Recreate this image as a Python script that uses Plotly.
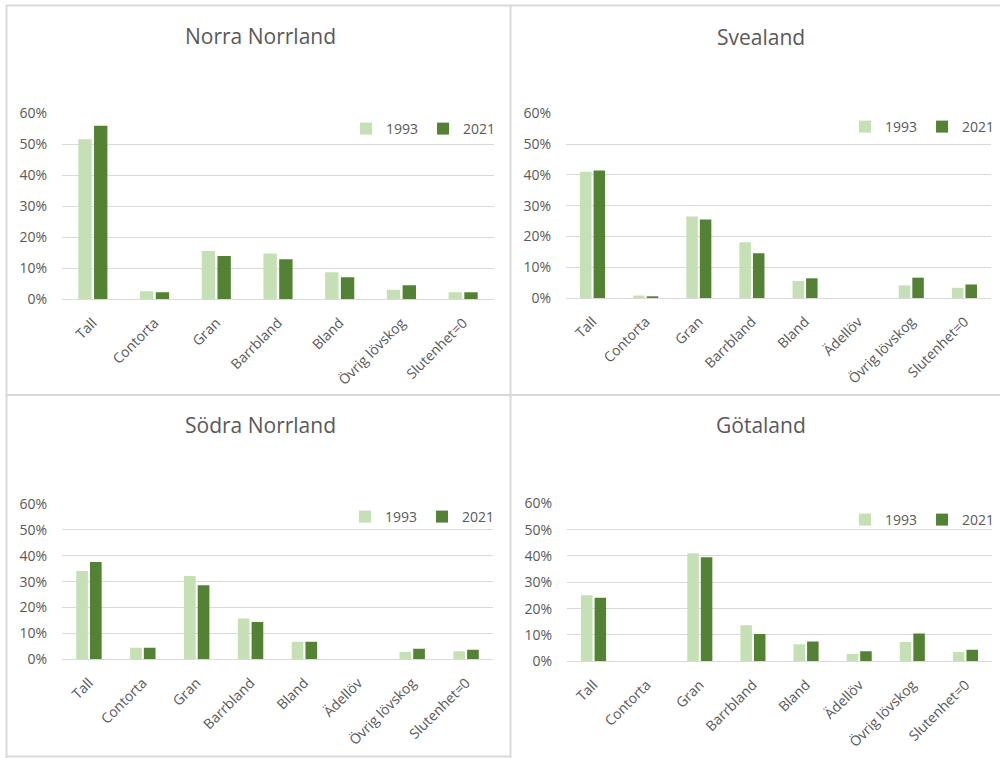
import plotly.graph_objects as go

# Category labels (Norra Norrland has no Ädellöv class)
cats_nn = ["Tall", "Contorta", "Gran", "Barrbland", "Bland", "Övrig lövskog", "Slutenhet=0"]
cats_all = ["Tall", "Contorta", "Gran", "Barrbland", "Bland", "Ädellöv", "Övrig lövskog", "Slutenhet=0"]

years = ["1993", "2021"]

# Share of forest area per forest type
nn_1993 = [0.516, 0.026, 0.156, 0.148, 0.087, 0.031, 0.023]
nn_2021 = [0.560, 0.023, 0.140, 0.129, 0.071, 0.045, 0.023]

sv_1993 = [0.410, 0.008, 0.265, 0.181, 0.055, 0.0, 0.041, 0.033]
sv_2021 = [0.414, 0.005, 0.255, 0.145, 0.064, 0.0, 0.066, 0.044]

sn_1993 = [0.341, 0.045, 0.322, 0.158, 0.068, 0.0, 0.028, 0.031]
sn_2021 = [0.376, 0.045, 0.286, 0.144, 0.068, 0.0, 0.041, 0.037]

gl_1993 = [0.251, 0.0, 0.410, 0.137, 0.065, 0.028, 0.073, 0.035]
gl_2021 = [0.241, 0.0, 0.395, 0.104, 0.075, 0.038, 0.106, 0.044]

titles = ["Norra Norrland", "Svealand", "Södra Norrland", "Götaland"]

colors = {"1993": "#c5e0b4", "2021": "#548235"}

W, H = 1000, 758


def px_x(v):
    return v / W


def px_y(v):
    return 1 - v / H


# panel layout: (title, categories, series, x-domain px, y px of 0% and 60%, title pos, legend pos)
panels = [
    (titles[0], cats_nn, [nn_1993, nn_2021], (62, 494), (299.3, 113.3), (260.5, 36), (501, 129)),
    (titles[1], cats_all, [sv_1993, sv_2021], (566, 991), (298.0, 113.3), (761, 37), (1000, 127)),
    (titles[2], cats_all, [sn_1993, sn_2021], (62, 493), (659.3, 504.0), (260.5, 425), (500, 517)),
    (titles[3], cats_all, [gl_1993, gl_2021], (567, 992), (661.3, 503.3), (761, 425), (1000, 520)),
]

fig = go.Figure()
font_family = "Open Sans, Noto Sans, sans-serif"
grey = "#595959"
line_grey = "#d9d9d9"

annotations = []
for i, (title, cats, series, xd, yd, tpos, lpos) in enumerate(panels):
    n = i + 1
    xa = "x" if n == 1 else f"x{n}"
    ya = "y" if n == 1 else f"y{n}"
    lg = "legend" if n == 1 else f"legend{n}"
    for yr, vals in zip(years, series):
        fig.add_trace(go.Bar(
            x=cats, y=vals, name=yr, xaxis=xa, yaxis=ya, legend=lg,
            marker=dict(color=colors[yr], line=dict(width=0)),
        ))
    xkey = "xaxis" if n == 1 else f"xaxis{n}"
    ykey = "yaxis" if n == 1 else f"yaxis{n}"
    fig.update_layout({
        xkey: dict(
            domain=[px_x(xd[0]), px_x(xd[1])], anchor=ya, automargin=False,
            tickangle=-45, showgrid=False, showline=True, linecolor=line_grey, linewidth=1,
            tickfont=dict(family=font_family, size=14, color=grey),
            ticks="", ticklabelstandoff=9, fixedrange=True,
        ),
        ykey: dict(
            domain=[px_y(yd[0]), px_y(yd[1])], anchor=xa, automargin=False,
            range=[0, 0.6], dtick=0.1, tickformat=".0%",
            showgrid=True, gridcolor=line_grey, gridwidth=1, zeroline=False,
            tickfont=dict(family=font_family, size=14, color=grey),
            ticks="", ticklabelstandoff=14, fixedrange=True,
        ),
        lg: dict(
            orientation="h", x=px_x(lpos[0]), y=px_y(lpos[1]),
            xanchor="right", yanchor="middle", bgcolor="rgba(0,0,0,0)",
            font=dict(family=font_family, size=14, color=grey),
            itemwidth=30, tracegroupgap=0,
        ),
    })
    annotations.append(dict(
        text=title, x=px_x(tpos[0]), y=px_y(tpos[1]), xref="paper", yref="paper",
        showarrow=False, xanchor="center", yanchor="middle",
        font=dict(family=font_family, size=21, color=grey),
    ))

# Panel frames
frame = [
    (6, 5.5, 1000, 5.5),
    (6, 395, 1000, 395),
    (6, 756.5, 511, 756.5),
    (6.5, 5, 6.5, 758),
    (510.5, 5, 510.5, 758),
]
shapes = [
    dict(type="line", xref="paper", yref="paper",
         x0=px_x(a), y0=px_y(b), x1=px_x(c), y1=px_y(d),
         line=dict(color=line_grey, width=2))
    for a, b, c, d in frame
]

fig.update_layout(
    width=W, height=H, margin=dict(l=0, r=0, t=0, b=0, autoexpand=False),
    paper_bgcolor="white", plot_bgcolor="white",
    barmode="group", bargap=0.49, bargroupgap=0.15,
    annotations=annotations, shapes=shapes,
    font=dict(family=font_family, color=grey),
)

fig.write_html("out.html")
